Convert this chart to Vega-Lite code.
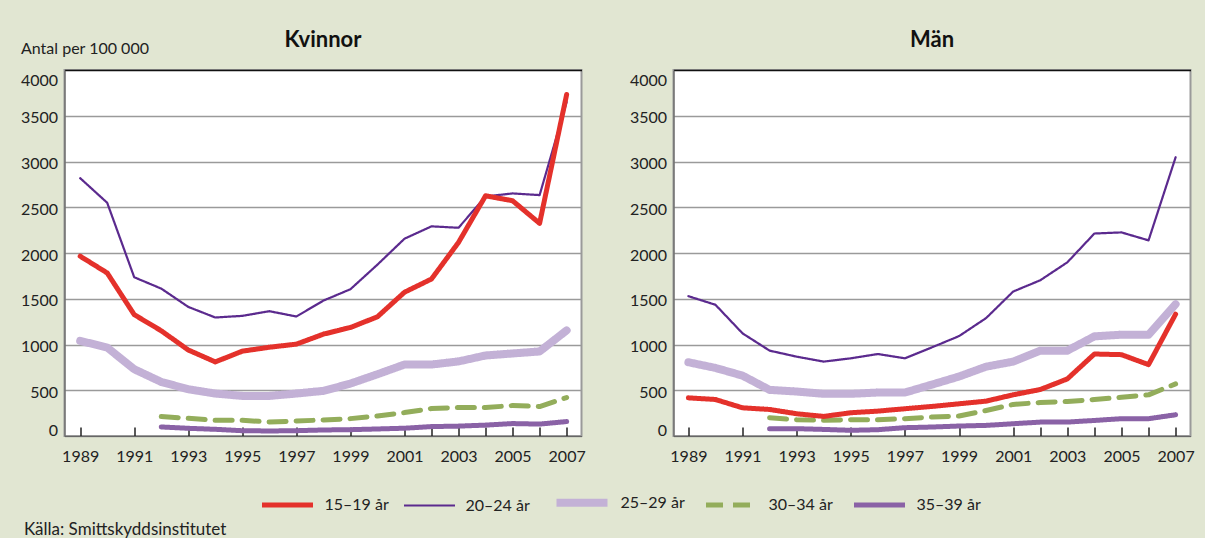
{
  "$schema": "https://vega.github.io/schema/vega-lite/v6.json",
  "background": "#e1e6d2",
  "padding": {"left": 18.5, "top": 28, "right": 13, "bottom": 8},
  "datasets": {
    "d": [
      {"k":"Kvinnor","a":"25–29 år","ar":1989,"v":1040},{"k":"Kvinnor","a":"25–29 år","ar":1990,"v":967},{"k":"Kvinnor","a":"25–29 år","ar":1991,"v":730},{"k":"Kvinnor","a":"25–29 år","ar":1992,"v":591},{"k":"Kvinnor","a":"25–29 år","ar":1993,"v":511},{"k":"Kvinnor","a":"25–29 år","ar":1994,"v":464},{"k":"Kvinnor","a":"25–29 år","ar":1995,"v":438},{"k":"Kvinnor","a":"25–29 år","ar":1996,"v":438},{"k":"Kvinnor","a":"25–29 år","ar":1997,"v":464},{"k":"Kvinnor","a":"25–29 år","ar":1998,"v":493},{"k":"Kvinnor","a":"25–29 år","ar":1999,"v":573},{"k":"Kvinnor","a":"25–29 år","ar":2000,"v":675},{"k":"Kvinnor","a":"25–29 år","ar":2001,"v":781},{"k":"Kvinnor","a":"25–29 år","ar":2002,"v":781},{"k":"Kvinnor","a":"25–29 år","ar":2003,"v":815},{"k":"Kvinnor","a":"25–29 år","ar":2004,"v":880},{"k":"Kvinnor","a":"25–29 år","ar":2005,"v":902},{"k":"Kvinnor","a":"25–29 år","ar":2006,"v":924},{"k":"Kvinnor","a":"25–29 år","ar":2007,"v":1154},
      {"k":"Kvinnor","a":"30–34 år","ar":1992,"v":212},{"k":"Kvinnor","a":"30–34 år","ar":1993,"v":193},{"k":"Kvinnor","a":"30–34 år","ar":1994,"v":172},{"k":"Kvinnor","a":"30–34 år","ar":1995,"v":172},{"k":"Kvinnor","a":"30–34 år","ar":1996,"v":153},{"k":"Kvinnor","a":"30–34 år","ar":1997,"v":164},{"k":"Kvinnor","a":"30–34 år","ar":1998,"v":175},{"k":"Kvinnor","a":"30–34 år","ar":1999,"v":190},{"k":"Kvinnor","a":"30–34 år","ar":2000,"v":219},{"k":"Kvinnor","a":"30–34 år","ar":2001,"v":256},{"k":"Kvinnor","a":"30–34 år","ar":2002,"v":300},{"k":"Kvinnor","a":"30–34 år","ar":2003,"v":311},{"k":"Kvinnor","a":"30–34 år","ar":2004,"v":311},{"k":"Kvinnor","a":"30–34 år","ar":2005,"v":333},{"k":"Kvinnor","a":"30–34 år","ar":2006,"v":322},{"k":"Kvinnor","a":"30–34 år","ar":2007,"v":420},
      {"k":"Kvinnor","a":"35–39 år","ar":1992,"v":99},{"k":"Kvinnor","a":"35–39 år","ar":1993,"v":84},{"k":"Kvinnor","a":"35–39 år","ar":1994,"v":73},{"k":"Kvinnor","a":"35–39 år","ar":1995,"v":58},{"k":"Kvinnor","a":"35–39 år","ar":1996,"v":55},{"k":"Kvinnor","a":"35–39 år","ar":1997,"v":58},{"k":"Kvinnor","a":"35–39 år","ar":1998,"v":66},{"k":"Kvinnor","a":"35–39 år","ar":1999,"v":69},{"k":"Kvinnor","a":"35–39 år","ar":2000,"v":77},{"k":"Kvinnor","a":"35–39 år","ar":2001,"v":85},{"k":"Kvinnor","a":"35–39 år","ar":2002,"v":103},{"k":"Kvinnor","a":"35–39 år","ar":2003,"v":108},{"k":"Kvinnor","a":"35–39 år","ar":2004,"v":119},{"k":"Kvinnor","a":"35–39 år","ar":2005,"v":136},{"k":"Kvinnor","a":"35–39 år","ar":2006,"v":130},{"k":"Kvinnor","a":"35–39 år","ar":2007,"v":158},
      {"k":"Kvinnor","a":"20–24 år","ar":1989,"v":2818},{"k":"Kvinnor","a":"20–24 år","ar":1990,"v":2549},{"k":"Kvinnor","a":"20–24 år","ar":1991,"v":1735},{"k":"Kvinnor","a":"20–24 år","ar":1992,"v":1611},{"k":"Kvinnor","a":"20–24 år","ar":1993,"v":1411},{"k":"Kvinnor","a":"20–24 år","ar":1994,"v":1295},{"k":"Kvinnor","a":"20–24 år","ar":1995,"v":1313},{"k":"Kvinnor","a":"20–24 år","ar":1996,"v":1364},{"k":"Kvinnor","a":"20–24 år","ar":1997,"v":1306},{"k":"Kvinnor","a":"20–24 år","ar":1998,"v":1480},{"k":"Kvinnor","a":"20–24 år","ar":1999,"v":1604},{"k":"Kvinnor","a":"20–24 år","ar":2000,"v":1873},{"k":"Kvinnor","a":"20–24 år","ar":2001,"v":2156},{"k":"Kvinnor","a":"20–24 år","ar":2002,"v":2291},{"k":"Kvinnor","a":"20–24 år","ar":2003,"v":2276},{"k":"Kvinnor","a":"20–24 år","ar":2004,"v":2618},{"k":"Kvinnor","a":"20–24 år","ar":2005,"v":2651},{"k":"Kvinnor","a":"20–24 år","ar":2006,"v":2633},{"k":"Kvinnor","a":"20–24 år","ar":2007,"v":3650},
      {"k":"Kvinnor","a":"15–19 år","ar":1989,"v":1965},{"k":"Kvinnor","a":"15–19 år","ar":1990,"v":1782},{"k":"Kvinnor","a":"15–19 år","ar":1991,"v":1326},{"k":"Kvinnor","a":"15–19 år","ar":1992,"v":1150},{"k":"Kvinnor","a":"15–19 år","ar":1993,"v":940},{"k":"Kvinnor","a":"15–19 år","ar":1994,"v":810},{"k":"Kvinnor","a":"15–19 år","ar":1995,"v":927},{"k":"Kvinnor","a":"15–19 år","ar":1996,"v":970},{"k":"Kvinnor","a":"15–19 år","ar":1997,"v":1004},{"k":"Kvinnor","a":"15–19 år","ar":1998,"v":1113},{"k":"Kvinnor","a":"15–19 år","ar":1999,"v":1186},{"k":"Kvinnor","a":"15–19 år","ar":2000,"v":1303},{"k":"Kvinnor","a":"15–19 år","ar":2001,"v":1571},{"k":"Kvinnor","a":"15–19 år","ar":2002,"v":1716},{"k":"Kvinnor","a":"15–19 år","ar":2003,"v":2116},{"k":"Kvinnor","a":"15–19 år","ar":2004,"v":2625},{"k":"Kvinnor","a":"15–19 år","ar":2005,"v":2571},{"k":"Kvinnor","a":"15–19 år","ar":2006,"v":2324},{"k":"Kvinnor","a":"15–19 år","ar":2007,"v":3732},
      {"k":"Män","a":"25–29 år","ar":1989,"v":806},{"k":"Män","a":"25–29 år","ar":1990,"v":744},{"k":"Män","a":"25–29 år","ar":1991,"v":660},{"k":"Män","a":"25–29 år","ar":1992,"v":504},{"k":"Män","a":"25–29 år","ar":1993,"v":486},{"k":"Män","a":"25–29 år","ar":1994,"v":461},{"k":"Män","a":"25–29 år","ar":1995,"v":461},{"k":"Män","a":"25–29 år","ar":1996,"v":475},{"k":"Män","a":"25–29 år","ar":1997,"v":475},{"k":"Män","a":"25–29 år","ar":1998,"v":562},{"k":"Män","a":"25–29 år","ar":1999,"v":650},{"k":"Män","a":"25–29 år","ar":2000,"v":758},{"k":"Män","a":"25–29 år","ar":2001,"v":813},{"k":"Män","a":"25–29 år","ar":2002,"v":933},{"k":"Män","a":"25–29 år","ar":2003,"v":933},{"k":"Män","a":"25–29 år","ar":2004,"v":1089},{"k":"Män","a":"25–29 år","ar":2005,"v":1107},{"k":"Män","a":"25–29 år","ar":2006,"v":1107},{"k":"Män","a":"25–29 år","ar":2007,"v":1441},
      {"k":"Män","a":"30–34 år","ar":1992,"v":200},{"k":"Män","a":"30–34 år","ar":1993,"v":178},{"k":"Män","a":"30–34 år","ar":1994,"v":171},{"k":"Män","a":"30–34 år","ar":1995,"v":178},{"k":"Män","a":"30–34 år","ar":1996,"v":178},{"k":"Män","a":"30–34 år","ar":1997,"v":189},{"k":"Män","a":"30–34 år","ar":1998,"v":207},{"k":"Män","a":"30–34 år","ar":1999,"v":218},{"k":"Män","a":"30–34 år","ar":2000,"v":279},{"k":"Män","a":"30–34 år","ar":2001,"v":345},{"k":"Män","a":"30–34 år","ar":2002,"v":366},{"k":"Män","a":"30–34 år","ar":2003,"v":377},{"k":"Män","a":"30–34 år","ar":2004,"v":399},{"k":"Män","a":"30–34 år","ar":2005,"v":424},{"k":"Män","a":"30–34 år","ar":2006,"v":450},{"k":"Män","a":"30–34 år","ar":2007,"v":570},
      {"k":"Män","a":"35–39 år","ar":1992,"v":80},{"k":"Män","a":"35–39 år","ar":1993,"v":80},{"k":"Män","a":"35–39 år","ar":1994,"v":72},{"k":"Män","a":"35–39 år","ar":1995,"v":62},{"k":"Män","a":"35–39 år","ar":1996,"v":69},{"k":"Män","a":"35–39 år","ar":1997,"v":91},{"k":"Män","a":"35–39 år","ar":1998,"v":98},{"k":"Män","a":"35–39 år","ar":1999,"v":109},{"k":"Män","a":"35–39 år","ar":2000,"v":116},{"k":"Män","a":"35–39 år","ar":2001,"v":134},{"k":"Män","a":"35–39 år","ar":2002,"v":152},{"k":"Män","a":"35–39 år","ar":2003,"v":152},{"k":"Män","a":"35–39 år","ar":2004,"v":170},{"k":"Män","a":"35–39 år","ar":2005,"v":189},{"k":"Män","a":"35–39 år","ar":2006,"v":189},{"k":"Män","a":"35–39 år","ar":2007,"v":232},
      {"k":"Män","a":"20–24 år","ar":1989,"v":1528},{"k":"Män","a":"20–24 år","ar":1990,"v":1434},{"k":"Män","a":"20–24 år","ar":1991,"v":1122},{"k":"Män","a":"20–24 år","ar":1992,"v":933},{"k":"Män","a":"20–24 år","ar":1993,"v":867},{"k":"Män","a":"20–24 år","ar":1994,"v":813},{"k":"Män","a":"20–24 år","ar":1995,"v":849},{"k":"Män","a":"20–24 år","ar":1996,"v":896},{"k":"Män","a":"20–24 år","ar":1997,"v":849},{"k":"Män","a":"20–24 år","ar":1998,"v":969},{"k":"Män","a":"20–24 år","ar":1999,"v":1092},{"k":"Män","a":"20–24 år","ar":2000,"v":1289},{"k":"Män","a":"20–24 år","ar":2001,"v":1579},{"k":"Män","a":"20–24 år","ar":2002,"v":1702},{"k":"Män","a":"20–24 år","ar":2003,"v":1898},{"k":"Män","a":"20–24 år","ar":2004,"v":2213},{"k":"Män","a":"20–24 år","ar":2005,"v":2225},{"k":"Män","a":"20–24 år","ar":2006,"v":2138},{"k":"Män","a":"20–24 år","ar":2007,"v":3046},
      {"k":"Män","a":"15–19 år","ar":1989,"v":417},{"k":"Män","a":"15–19 år","ar":1990,"v":399},{"k":"Män","a":"15–19 år","ar":1991,"v":308},{"k":"Män","a":"15–19 år","ar":1992,"v":290},{"k":"Män","a":"15–19 år","ar":1993,"v":243},{"k":"Män","a":"15–19 år","ar":1994,"v":214},{"k":"Män","a":"15–19 år","ar":1995,"v":254},{"k":"Män","a":"15–19 år","ar":1996,"v":272},{"k":"Män","a":"15–19 år","ar":1997,"v":298},{"k":"Män","a":"15–19 år","ar":1998,"v":323},{"k":"Män","a":"15–19 år","ar":1999,"v":352},{"k":"Män","a":"15–19 år","ar":2000,"v":381},{"k":"Män","a":"15–19 år","ar":2001,"v":450},{"k":"Män","a":"15–19 år","ar":2002,"v":508},{"k":"Män","a":"15–19 år","ar":2003,"v":624},{"k":"Män","a":"15–19 år","ar":2004,"v":896},{"k":"Män","a":"15–19 år","ar":2005,"v":889},{"k":"Män","a":"15–19 år","ar":2006,"v":780},{"k":"Män","a":"15–19 år","ar":2007,"v":1332}
    ]
  },
  "data": {"name": "d"},
  "title": {"text": "Källa: Smittskyddsinstitutet", "orient": "bottom", "anchor": "start", "fontSize": 17, "fontWeight": "normal", "font": "Lato", "color": "#222", "offset": 16, "baseline": "alphabetic", "dx": 4.5},
  "spacing": 92,
  "bounds": "flush",
  "resolve": {"scale": {"color": "shared", "strokeWidth": "shared", "strokeDash": "shared"}, "legend": {"color": "shared", "strokeWidth": "shared", "strokeDash": "shared"}},
  "config": {
    "font": "Lato",
    "view": {"fill": "white", "stroke": "#9a9a9a", "strokeWidth": 2},
    "axis": {"labelFont": "Lato", "labelFontSize": 16, "labelColor": "#222", "domainColor": "#666", "domainWidth": 1.2, "tickColor": "#222"},
    "axisX": {"grid": false, "tickSize": -9, "tickWidth": 1.5, "labelPadding": 21, "labelFlush": false, "labelOverlap": false},
    "axisY": {"ticks": false, "labelPadding": 7, "grid": true, "gridColor": {"condition": {"test": "datum.value === 4000", "value": "#111"}, "value": "#9a9a9a"}, "gridWidth": 1.3, "labelFlush": true, "labelOffset": 2, "format": "d"},
    "title": {"font": "Lato", "fontSize": 22, "fontWeight": "bold", "color": "#111", "offset": 18, "baseline": "alphabetic", "anchor": "middle"},
    "legend": {"orient": "none", "legendX": 195, "legendY": 403, "direction": "horizontal", "labelFont": "Lato", "labelFontSize": 16, "labelColor": "#222", "symbolType": "stroke", "symbolSize": 2600, "columnPadding": 10, "labelOffset": 9}
  },
  "hconcat": [
    {
      "width": 517, "height": 366,
      "title": {"text": "Kvinnor", "offset": -12},
      "transform": [{"filter": "datum.k === 'Kvinnor'"}],
      "mark": {"type": "line", "strokeCap": "round", "strokeJoin": "round"},
      "encoding": {
        "x": {"field": "ar", "type": "quantitative", "scale": {"domain": [1988.42, 2007.55], "nice": false, "zero": false},
              "axis": {"title": null, "values": [1989,1991,1993,1995,1997,1999,2001,2002,2003,2004,2005,2006,2007], "labelExpr": "datum.value % 2 == 1 ? datum.label : ''", "format": "d"}},
        "y": {"field": "v", "type": "quantitative", "scale": {"domain": [0, 4000], "nice": false},
              "axis": {"values": [0,500,1000,1500,2000,2500,3000,3500,4000], "title": "Antal per 100 000", "titleAngle": 0, "titleAlign": "left", "titleBaseline": "alphabetic", "titleX": -44, "titleY": -17, "titleFont": "Lato", "titleFontSize": 16, "titleFontWeight": "normal", "titleColor": "#222"}},
        "color": {"field": "a", "type": "nominal", "title": null, "scale": {"domain": ["15–19 år","20–24 år","25–29 år","30–34 år","35–39 år"], "range": ["#e4312b","#5b2a8e","#c3b1d6","#93ad5b","#8a62a6"]}},
        "strokeWidth": {"field": "a", "type": "nominal", "title": null, "scale": {"type": "ordinal", "domain": ["15–19 år","20–24 år","25–29 år","30–34 år","35–39 år"], "range": [5, 2.2, 8, 5, 5]}},
        "strokeDash": {"field": "a", "type": "nominal", "title": null, "scale": {"domain": ["15–19 år","20–24 år","25–29 år","30–34 år","35–39 år"], "range": [[1,0],[1,0],[1,0],[17,10],[1,0]]}}
      }
    },
    {
      "width": 517, "height": 366,
      "title": {"text": "Män"},
      "transform": [{"filter": "datum.k === 'Män'"}],
      "mark": {"type": "line", "strokeCap": "round", "strokeJoin": "round"},
      "encoding": {
        "x": {"field": "ar", "type": "quantitative", "scale": {"domain": [1988.45, 2007.55], "nice": false, "zero": false},
              "axis": {"title": null, "values": [1989,1991,1993,1995,1997,1999,2001,2002,2003,2004,2005,2006,2007], "labelExpr": "datum.value % 2 == 1 ? datum.label : ''", "format": "d"}},
        "y": {"field": "v", "type": "quantitative", "scale": {"domain": [0, 4000], "nice": false},
              "axis": {"values": [0,500,1000,1500,2000,2500,3000,3500,4000], "title": null}},
        "color": {"field": "a", "type": "nominal", "title": null, "scale": {"domain": ["15–19 år","20–24 år","25–29 år","30–34 år","35–39 år"], "range": ["#e4312b","#5b2a8e","#c3b1d6","#93ad5b","#8a62a6"]}},
        "strokeWidth": {"field": "a", "type": "nominal", "title": null, "scale": {"type": "ordinal", "domain": ["15–19 år","20–24 år","25–29 år","30–34 år","35–39 år"], "range": [5, 2.2, 8, 5, 5]}},
        "strokeDash": {"field": "a", "type": "nominal", "title": null, "scale": {"domain": ["15–19 år","20–24 år","25–29 år","30–34 år","35–39 år"], "range": [[1,0],[1,0],[1,0],[17,10],[1,0]]}}
      }
    }
  ]
}
